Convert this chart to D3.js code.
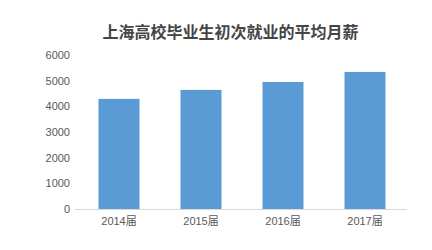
<!DOCTYPE html>
<html>
<head>
<meta charset="utf-8">
<script src="https://cdn.jsdelivr.net/npm/d3@7"></script>
<style>
  body { margin: 0; background: #fff; }
  text { font-family: "Liberation Sans", Arial, sans-serif; }
</style>
</head>
<body>
<div class="main"></div>
<script>
// chart data
var title = "上海高校毕业生初次就业的平均月薪";
var categories = ["2014届", "2015届", "2016届", "2017届"];
var salaries = [4290, 4640, 4950, 5340];
var yTicks = [0, 1000, 2000, 3000, 4000, 5000, 6000];

var fullwidth = 432, fullheight = 250;

var svg = d3.select(".main")
  .append("svg")
  .attr("width", fullwidth)
  .attr("height", fullheight);

// scales
var x = d3.scaleBand()
  .domain(categories)
  .range([78, 406])
  .paddingInner(0.5)
  .paddingOuter(0.25);

var y = d3.scaleLinear()
  .domain([0, 6000])
  .range([209, 55]);

// title
svg.append("text")
  .attr("x", 230.5)
  .attr("y", 38)
  .attr("text-anchor", "middle")
  .style("font-family", "'Noto Sans CJK SC', sans-serif")
  .style("font-size", "16px")
  .style("font-weight", "bold")
  .style("fill", "#454545")
  .text(title);

// y axis (labels only)
var yAxis = svg.append("g")
  .attr("transform", "translate(75,0)")
  .call(d3.axisLeft(y).tickValues(yTicks).tickFormat(d3.format("d")).tickSize(0).tickPadding(5));
yAxis.select(".domain").remove();
yAxis.selectAll("text")
  .style("font-size", "11px")
  .style("fill", "#595959")
  .style("font-family", "'Liberation Sans', Arial, sans-serif");

// bars
svg.append("g")
  .selectAll("rect")
  .data(salaries)
  .join("rect")
  .attr("x", function(d, i) { return x(categories[i]); })
  .attr("y", function(d) { return y(d); })
  .attr("width", x.bandwidth())
  .attr("height", function(d) { return y(0) - y(d); })
  .attr("fill", "#5b9bd5");

// x axis
var xAxis = svg.append("g")
  .attr("transform", "translate(0," + y(0) + ")")
  .call(d3.axisBottom(x).tickSize(0).tickPadding(8));
xAxis.select(".domain")
  .attr("d", "M75,0.5H407")
  .attr("stroke", "#d9d9d9");
xAxis.selectAll("text")
  .style("font-size", "11px")
  .style("fill", "#595959")
  .style("font-family", "'Liberation Sans', 'Noto Sans CJK SC', sans-serif");
</script>
</body>
</html>
